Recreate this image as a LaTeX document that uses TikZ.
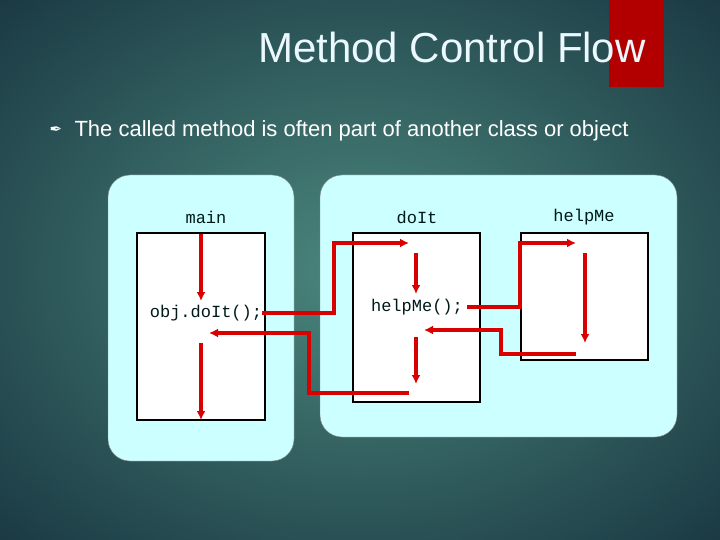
\documentclass[tikz,border=0pt]{standalone}
\usepackage{fontspec}
\usetikzlibrary{arrows.meta}
\setmainfont{Liberation Sans}
\newfontfamily\codefont{Liberation Mono}
\newfontfamily\symfont{DejaVu Sans}
\definecolor{boxcyan}{RGB}{204,255,255}
\begin{document}
\begin{tikzpicture}[x=1pt,y=-1pt,
  container/.style={fill=boxcyan, draw=black!50, rounded corners=22pt},
  frame/.style={fill=white, draw=black, line width=1.4pt},
  flow/.style={draw=red!85!black, line width=3.5pt, -{Latex[length=9pt,width=9pt]}},
  lbl/.style={font=\codefont\fontsize{17}{19}\selectfont, text=black!80!teal}]
\useasboundingbox (0,0) rectangle (720,540);
\shade[inner color={rgb,255:red,75;green,135;blue,125}, outer color={rgb,255:red,22;green,50;blue,62}] (-200,-150) rectangle (920,690);
\fill[red!70!black] (609,0) rectangle (664,87);
\node[font=\fontsize{42}{44}\selectfont, text=white!92!cyan] (title) at (452,47) {Method Control Flow};
\node[font=\symfont\fontsize{15}{16}\selectfont, text=white] (bul) at (56,131) {✒};
\node[anchor=west, font=\fontsize{22}{26}\selectfont, text=white] (sub) at (71,131) {The called method is often part of another class or object};
\node[container, minimum width=186pt, minimum height=286pt] (cmain) at (201,318) {};
\node[container, minimum width=357pt, minimum height=262pt] (cobj) at (498.5,306) {};
\node[frame, minimum width=128pt, minimum height=187pt] (bmain) at (201,326.5) {};
\node[frame, minimum width=127pt, minimum height=169pt] (bdoit) at (416.5,317.5) {};
\node[frame, minimum width=127pt, minimum height=127pt] (bhelp) at (584.5,296.5) {};
\node[lbl] (lmain) at (206,217) {main};
\node[lbl] (ldoit) at (417,217) {doIt};
\node[lbl] (lhelp) at (584,217) {helpMe};
\node[lbl] (call1) at (206,313) {obj.doIt();};
\node[lbl] (call2) at (417,307) {helpMe();};
\coordinate (a1s) at (201,234); \coordinate (a1e) at (201,301);
\coordinate (a2s) at (262,313); \coordinate (a2e) at (409,243);
\coordinate (a3s) at (416,253); \coordinate (a3e) at (416,294);
\coordinate (a4s) at (467,307); \coordinate (a4e) at (576,243);
\coordinate (a5s) at (585,253); \coordinate (a5e) at (585,343);
\coordinate (a6s) at (576,354); \coordinate (a6e) at (424,330);
\coordinate (a7s) at (416,337); \coordinate (a7e) at (416,384);
\coordinate (a8s) at (409,393); \coordinate (a8e) at (209,333);
\coordinate (a9s) at (201,343); \coordinate (a9e) at (201,420);
\draw[flow] (a1s) -- (a1e);
\draw[flow] (a2s) -- (334,313) -- (334,243) -- (a2e);
\draw[flow] (a3s) -- (a3e);
\draw[flow] (a4s) -- (520,307) -- (520,243) -- (a4e);
\draw[flow] (a5s) -- (a5e);
\draw[flow] (a6s) -- (501,354) -- (501,330) -- (a6e);
\draw[flow] (a7s) -- (a7e);
\draw[flow] (a8s) -- (309,393) -- (309,333) -- (a8e);
\draw[flow] (a9s) -- (a9e);
\end{tikzpicture}
\end{document}
